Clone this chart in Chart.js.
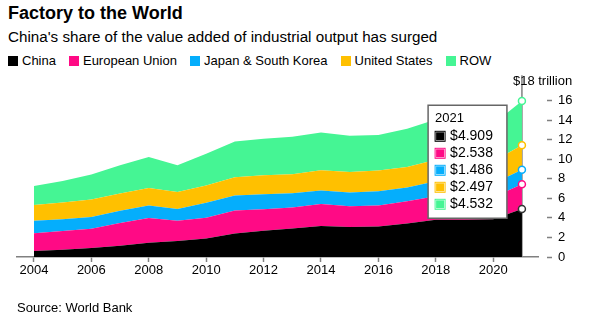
<!DOCTYPE html>
<html>
<head>
<meta charset="utf-8">
<script src="https://cdn.jsdelivr.net/npm/chart.js@4.4.0/dist/chart.umd.min.js"></script>
<style>
  body { margin: 0; width: 593px; height: 326px; position: relative; overflow: hidden; background: #fff;
         font-family: "Liberation Sans", Arial, sans-serif; color: #000; }
  #title { position: absolute; left: 8px; top: 3px; font-size: 18px; font-weight: bold; }
  #sub { position: absolute; left: 8px; top: 28px; font-size: 15.2px; }
  #legend { position: absolute; left: 8px; top: 53px; font-size: 13px; display: flex; }
  #legend span { display: flex; align-items: center; margin-right: 13px; }
  #legend i { display: inline-block; width: 10px; height: 10px; margin-right: 4px; }
  #source { position: absolute; left: 17px; top: 300px; font-size: 13px; }
  canvas { position: absolute; left: 0; top: 0; }
</style>
</head>
<body>
<div id="title">Factory to the World</div>
<div id="sub">China's share of the value added of industrial output has surged</div>
<div id="legend"></div>
<canvas id="chart" width="593" height="326"></canvas>
<div id="source">Source: World Bank</div>
<script>
// value added, $ trillion
const years = [2004, 2005, 2006, 2007, 2008, 2009, 2010, 2011, 2012, 2013, 2014, 2015, 2016, 2017, 2018, 2019, 2020, 2021];
const china = [0.61, 0.74, 0.92, 1.15, 1.46, 1.63, 1.90, 2.41, 2.68, 2.92, 3.16, 3.06, 3.13, 3.43, 3.82, 3.82, 3.85, 4.909];
const eu    = [1.81, 1.91, 1.97, 2.32, 2.52, 2.07, 2.11, 2.35, 2.21, 2.15, 2.27, 2.14, 2.14, 2.27, 2.40, 2.45, 2.27, 2.538];
const jpkr  = [1.28, 1.22, 1.19, 1.25, 1.29, 1.22, 1.53, 1.53, 1.53, 1.45, 1.37, 1.40, 1.46, 1.40, 1.53, 1.47, 1.39, 1.486];
const us    = [1.63, 1.71, 1.80, 1.77, 1.79, 1.74, 1.77, 1.86, 1.94, 1.94, 2.07, 2.10, 2.11, 2.10, 2.19, 2.30, 2.27, 2.497];
const row   = [1.94, 2.20, 2.55, 2.89, 3.16, 2.72, 3.26, 3.67, 3.74, 3.84, 3.87, 3.70, 3.63, 3.92, 4.13, 4.10, 3.82, 4.532];

const names  = ['China', 'European Union', 'Japan & South Korea', 'United States', 'ROW'];
const colors = ['#000000', '#ff0a85', '#05aefc', '#ffc000', '#45f594'];
const series = [china, eu, jpkr, us, row];
const yTicks = [0, 2, 4, 6, 8, 10, 12, 14, 16];

const legend = document.getElementById('legend');
names.forEach((n, i) => {
  legend.innerHTML += '<span><i style="background:' + colors[i] + '"></i>' + n + '</span>';
});

const last = years.length - 1;
const grey = '#808080';

const datasets = series.map((vals, s) => ({
  label: names[s],
  data: years.map((yr, i) => ({ x: yr, y: vals[i] })),
  backgroundColor: colors[s],
  borderWidth: 0,
  fill: s === 0 ? 'origin' : '-1',
  tension: 0,
  pointRadius: years.map((yr, i) => i === last ? 3.5 : 0),
  pointBackgroundColor: '#fff',
  pointBorderColor: s === 0 ? '#333' : colors[s],
  pointBorderWidth: 1.5
}));

// hover line at the last year and the "$18 trillion" label
const extras = {
  id: 'extras',
  beforeDatasetsDraw(chart) {
    const { ctx, scales: { x, y } } = chart;
    const px = x.getPixelForValue(years[last]);
    ctx.save();
    ctx.strokeStyle = grey;
    ctx.lineWidth = 1.5;
    ctx.beginPath();
    ctx.moveTo(px, y.getPixelForValue(18.6));
    ctx.lineTo(px, y.getPixelForValue(0));
    ctx.stroke();
    ctx.restore();
  },
  afterDraw(chart) {
    const { ctx, scales: { x, y } } = chart;
    ctx.save();
    ctx.font = '13px "Liberation Sans", Arial, sans-serif';
    ctx.fillStyle = '#000';
    ctx.textBaseline = 'middle';
    ctx.fillText('$18 trillion', x.getPixelForValue(years[last]) - 9, y.getPixelForValue(18));
    ctx.restore();
  }
};

const chart = new Chart(document.getElementById('chart'), {
  type: 'line',
  data: { datasets },
  plugins: [extras],
  options: {
    responsive: false,
    animation: false,
    events: [],
    layout: { padding: { left: 17, top: 81, right: 0, bottom: 0 } },
    plugins: {
      legend: { display: false },
      tooltip: {
        enabled: true,
        position: 'average',
        xAlign: 'right',
        yAlign: 'center',
        caretSize: 0,
        caretPadding: 15,
        backgroundColor: '#fff',
        borderColor: '#666',
        borderWidth: 1.5,
        cornerRadius: 0,
        titleColor: '#000',
        bodyColor: '#000',
        titleFont: { family: '"Liberation Sans", Arial, sans-serif', size: 13, weight: 'normal', lineHeight: 1 },
        bodyFont: { family: '"Liberation Sans", Arial, sans-serif', size: 14, lineHeight: 1 },
        titleMarginBottom: 4,
        bodySpacing: 3,
        padding: { left: 7, right: 14, top: 7, bottom: 7 },
        boxWidth: 10,
        boxHeight: 10,
        boxPadding: 3,
        multiKeyBackground: 'rgba(0,0,0,0)',
        callbacks: {
          title: items => String(items[0].raw.x),
          label: item => '$' + item.raw.y.toFixed(3),
          labelColor: item => ({ borderColor: colors[item.datasetIndex], backgroundColor: colors[item.datasetIndex], borderWidth: 1 })
        }
      }
    },
    scales: {
      x: {
        type: 'linear',
        min: 2003.41,
        max: 2021.56,
        afterFit: s => { s.height = 69; },
        border: { display: true, color: grey, width: 1.5 },
        grid: { drawOnChartArea: false, tickLength: 5, tickColor: grey, tickWidth: 1.5 },
        ticks: {
          stepSize: 2,
          includeBounds: false,
          autoSkip: false,
          maxRotation: 0,
          padding: 1,
          color: '#000',
          font: { family: '"Liberation Sans", Arial, sans-serif', size: 13 },
          callback: v => String(v)
        }
      },
      y: {
        position: 'right',
        stacked: true,
        min: 0,
        max: 18,
        afterFit: s => { s.width = 55; },
        afterBuildTicks: s => { s.ticks = yTicks.concat([18]).map(v => ({ value: v })); },
        border: { display: false },
        grid: {
          drawOnChartArea: false,
          tickLength: 14,
          tickWidth: 1.5,
          tickColor: ctx => ctx.tick && ctx.tick.value === 18 ? 'rgba(0,0,0,0)' : grey,
          tickBorderDash: [0, 9, 5, 40]
        },
        ticks: {
          padding: 6,
          autoSkip: false,
          color: '#000',
          font: { family: '"Liberation Sans", Arial, sans-serif', size: 13 },
          callback: v => yTicks.includes(v) ? String(v) : ''
        }
      }
    }
  }
});

chart.tooltip.setActiveElements(series.map((s, i) => ({ datasetIndex: i, index: last })), { x: 0, y: 0 });
chart.update();
</script>
</body>
</html>
